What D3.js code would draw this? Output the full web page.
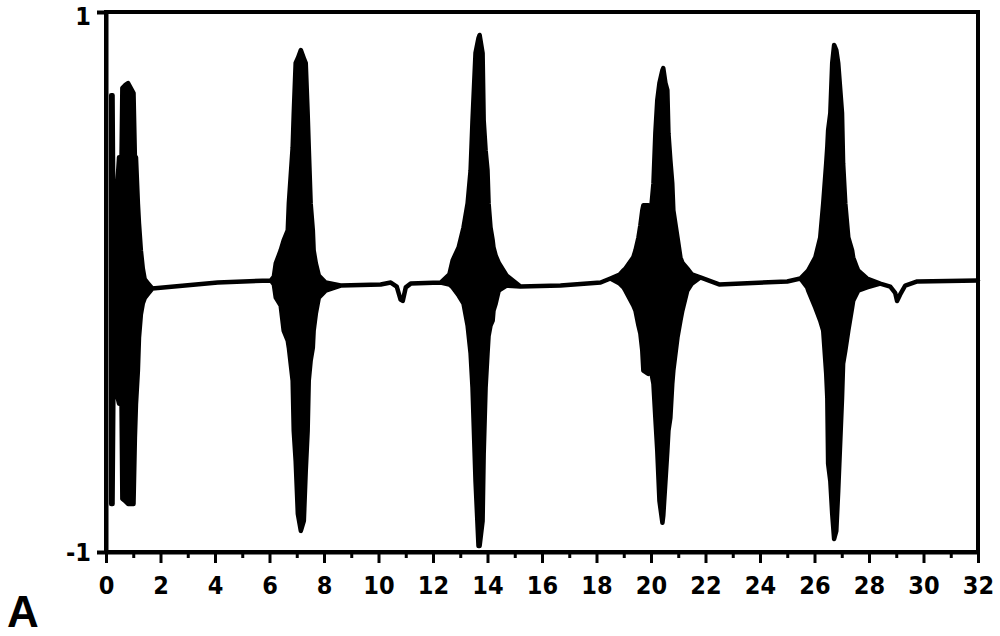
<!DOCTYPE html>
<html>
<head>
<meta charset="utf-8">
<script src="https://cdn.jsdelivr.net/npm/d3@7"></script>
<style>
  body { margin: 0; background: #fff; }
  .tick text { font-family: "DejaVu Sans Condensed", "DejaVu Sans", sans-serif; font-stretch: condensed; font-weight: bold; font-size: 25px; fill: #000; }
</style>
</head>
<body>
<svg id="chart" width="1000" height="636"></svg>
<script>
// envelope of the recorded signal (upper / lower edge of the trace), time in s
const time = [
  0.19, 0.24, 0.27, 0.37, 0.48, 0.57, 0.60, 0.70, 0.81, 0.95, 1.01, 1.06, 1.10, 1.17, 1.21, 1.28, 1.35, 1.42, 1.55, 1.70,
  4.10, 6.05,
  6.16, 6.23, 6.41, 6.52, 6.67, 6.71, 6.85, 6.89, 6.96, 7.04, 7.15, 7.26, 7.33, 7.40, 7.44, 7.51, 7.59, 7.62, 7.70, 7.81, 8.06, 8.61,
  10.08, 10.45, 10.67, 10.81, 10.89, 11.00, 11.18, 12.28,
  12.60, 12.72, 12.94, 13.12, 13.27, 13.38, 13.45, 13.56, 13.67, 13.71, 13.82, 13.86, 13.93, 14.00, 14.04, 14.11, 14.19, 14.22, 14.30, 14.41, 14.70, 15.21,
  16.68, 18.15,
  18.51, 18.85, 18.99, 19.06, 19.35, 19.43, 19.54, 19.61, 19.68, 19.72, 19.90, 20.00, 20.09, 20.16, 20.23, 20.31, 20.42, 20.45, 20.53, 20.60, 20.64, 20.71, 20.78, 20.82, 20.97, 21.08, 21.15, 21.33, 21.50, 21.81,
  22.50, 25.00,
  25.48, 25.73, 25.77, 26.03, 26.21, 26.32, 26.43, 26.47, 26.50, 26.58, 26.65, 26.72, 26.80, 26.87, 27.01, 27.05, 27.13, 27.24, 27.38, 27.42, 27.57, 27.60, 27.93, 28.41,
  28.78, 28.96, 29.03, 29.14, 29.33, 29.77, 32.00
];
const upper = [
  0.692, 0.692, 0.247, 0.291, 0.462, 0.462, 0.718, 0.729, 0.737, 0.711, 0.700, 0.462, 0.462, 0.291, 0.217, 0.117, 0.050, 0.010, -0.006, -0.024,
  -0.002, 0.006,
  0.020, 0.069, 0.117, 0.154, 0.191, 0.291, 0.499, 0.625, 0.811, 0.829, 0.859, 0.829, 0.811, 0.625, 0.499, 0.291, 0.191, 0.117, 0.069, 0.024, -0.002, -0.013,
  -0.009, -0.002, -0.017, -0.065, -0.070, -0.020, -0.006, -0.002,
  0.028, 0.080, 0.128, 0.202, 0.291, 0.414, 0.599, 0.848, 0.904, 0.915, 0.848, 0.599, 0.488, 0.414, 0.291, 0.202, 0.154, 0.128, 0.098, 0.072, 0.024, -0.017,
  -0.013, -0.002,
  0.013, 0.028, 0.043, 0.050, 0.091, 0.117, 0.165, 0.210, 0.265, 0.284, 0.284, 0.265, 0.365, 0.551, 0.673, 0.737, 0.785, 0.792, 0.737, 0.711, 0.551, 0.451, 0.365, 0.265, 0.165, 0.091, 0.072, 0.050, 0.028, 0.017,
  -0.009, 0.002,
  0.013, 0.039, 0.043, 0.091, 0.165, 0.291, 0.440, 0.500, 0.562, 0.625, 0.811, 0.878, 0.859, 0.811, 0.625, 0.440, 0.291, 0.165, 0.117, 0.091, 0.050, 0.043, 0.013, -0.006,
  -0.017, -0.040, -0.070, -0.047, -0.013, 0.002, 0.006
];
const lower = [
  -0.822, -0.822, -0.421, -0.403, -0.451, -0.451, -0.803, -0.811, -0.822, -0.822, -0.822, -0.577, -0.451, -0.328, -0.206, -0.120, -0.080, -0.060, -0.043, -0.024,
  -0.002, 0.006,
  -0.009, -0.058, -0.087, -0.180, -0.217, -0.243, -0.366, -0.551, -0.662, -0.859, -0.922, -0.885, -0.699, -0.551, -0.366, -0.291, -0.243, -0.180, -0.117, -0.058, -0.032, -0.013,
  -0.009, -0.002, -0.017, -0.065, -0.070, -0.020, -0.006, -0.002,
  -0.009, -0.020, -0.050, -0.080, -0.161, -0.265, -0.391, -0.737, -0.978, -0.978, -0.885, -0.636, -0.391, -0.265, -0.199, -0.161, -0.143, -0.106, -0.080, -0.032, -0.013, -0.017,
  -0.013, -0.002,
  0.013, -0.006, -0.020, -0.032, -0.087, -0.106, -0.161, -0.191, -0.254, -0.328, -0.340, -0.328, -0.377, -0.503, -0.625, -0.811, -0.892, -0.866, -0.737, -0.625, -0.551, -0.503, -0.377, -0.328, -0.206, -0.143, -0.106, -0.032, -0.006, 0.017,
  -0.009, 0.002,
  0.013, -0.020, -0.032, -0.095, -0.143, -0.180, -0.340, -0.429, -0.673, -0.737, -0.859, -0.952, -0.922, -0.774, -0.429, -0.302, -0.254, -0.180, -0.095, -0.069, -0.039, -0.032, -0.020, -0.006,
  -0.017, -0.040, -0.070, -0.047, -0.013, 0.002, 0.006
];

const xMajorTicks = [0, 2, 4, 6, 8, 10, 12, 14, 16, 18, 20, 22, 24, 26, 28, 30, 32];
const xMinorTicks = [1, 3, 5, 7, 9, 11, 13, 15, 17, 19, 21, 23, 25, 27, 29, 31];
const yTicks = [-1, 1];
const panelLabel = "A";

const margin = { top: 12, right: 22, bottom: 84, left: 106 };
const width = 1000 - margin.left - margin.right;
const height = 636 - margin.top - margin.bottom;

const svg = d3.select('#chart');
const g = svg.append('g').attr('transform', `translate(${margin.left},${margin.top})`);

const x = d3.scaleLinear().domain([0, 32]).range([0, width]);
const y = d3.scaleLinear().domain([-1, 1]).range([height, 0]);

const data = time.map((t, i) => ({ t: t, hi: upper[i], lo: lower[i] }));

const area = d3.area()
    .x(d => x(d.t))
    .y0(d => y(d.lo))
    .y1(d => y(d.hi));

g.append('path')
    .datum(data)
    .attr('d', area)
    .style('fill', '#000')
    .style('stroke', '#000')
    .style('stroke-width', 4.5)
    .style('stroke-linejoin', 'round');

// frame
g.append('rect')
    .attr('width', width)
    .attr('height', height)
    .style('fill', 'none')
    .style('stroke', '#000')
    .style('stroke-width', 4);

// minor ticks
g.append('g')
    .attr('transform', `translate(0,${height})`)
    .call(d3.axisBottom(x).tickValues(xMinorTicks).tickSize(6).tickSizeOuter(0).tickFormat(''))
    .call(a => a.select('.domain').remove())
    .call(a => a.selectAll('.tick line').style('stroke-width', 3));

// major ticks + labels
g.append('g')
    .attr('transform', `translate(0,${height})`)
    .call(d3.axisBottom(x).tickValues(xMajorTicks).tickSize(11).tickSizeOuter(0).tickPadding(13).tickFormat(d => String(d)))
    .call(a => a.select('.domain').style('stroke-width', 4))
    .call(a => a.selectAll('.tick line').style('stroke-width', 3));

g.append('g')
    .call(d3.axisLeft(y).tickValues(yTicks).tickSize(9).tickSizeOuter(0).tickPadding(6).tickFormat(d => String(d)))
    .call(a => a.select('.domain').style('stroke-width', 4))
    .call(a => a.selectAll('.tick line').style('stroke-width', 4))
    .call(a => a.selectAll('.tick text').attr('dy', d => d === 1 ? '0.5em' : '0.32em'));

svg.append('text')
    .attr('x', 7)
    .attr('y', 627)
    .style('font-family', '"Liberation Sans", Arial, sans-serif')
    .style('font-weight', 'bold')
    .style('font-size', '44px')
    .text(panelLabel);
</script>
</body>
</html>
